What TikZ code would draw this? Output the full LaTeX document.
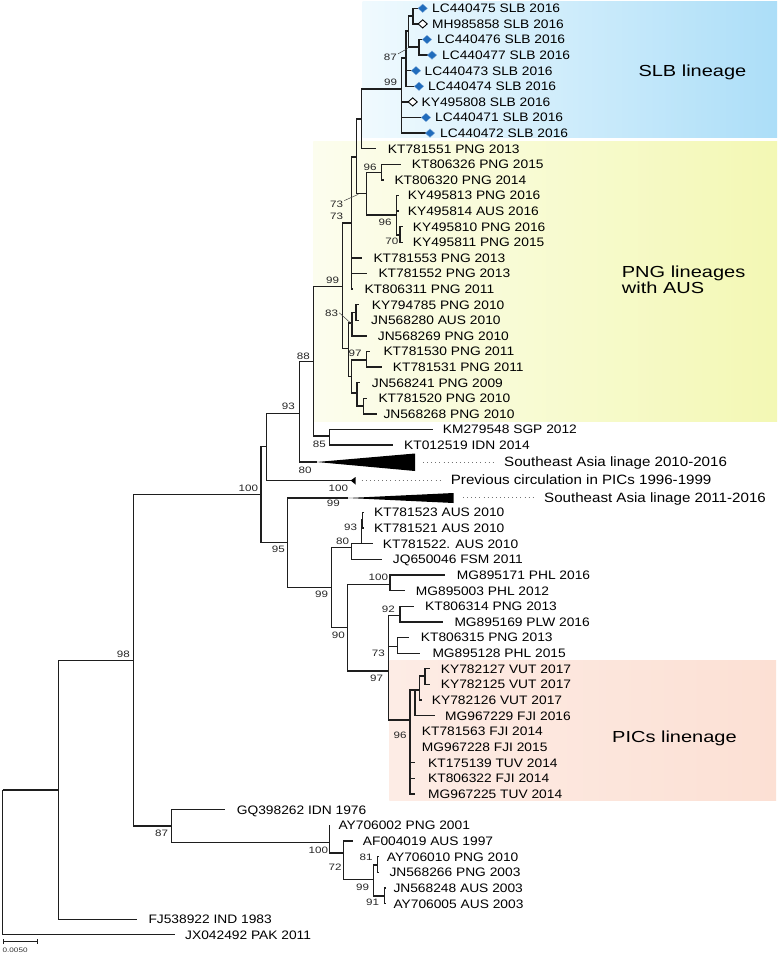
\documentclass[tikz,border=0pt]{standalone}
\usepackage{fontspec}
\setmainfont{Liberation Sans}
\newfontfamily\tipff{Liberation Sans}[FakeStretch=1.12]
\newfontfamily\wideff{Liberation Sans}[FakeStretch=1.25]
\usetikzlibrary{shapes.geometric,arrows.meta}
\definecolor{treeline}{RGB}{30,30,30}
\definecolor{dblue}{RGB}{32,108,188}
\definecolor{slbL}{RGB}{240,250,254}
\definecolor{slbR}{RGB}{172,222,248}
\definecolor{pngL}{RGB}{252,253,238}
\definecolor{pngR}{RGB}{243,248,180}
\definecolor{picL}{RGB}{253,236,229}
\definecolor{picR}{RGB}{252,224,212}
\newcommand{\tipl}[5]{\coordinate (#1) at (#2,#3);\node[lab] (#1l) at (#4,#3) {#5};}
\newcommand{\suplab}[4]{\node[sup] (#1) at (#2,#3) {#4};}
\begin{document}
\begin{tikzpicture}[x=1pt,y=-1pt,
  br/.style={draw=treeline, line width=1.25pt},
  lab/.style={anchor=base west, inner sep=0pt, yshift=-4.4pt, font=\tipff\fontsize{12.3}{14}\selectfont, text=black},
  sup/.style={anchor=base east, inner sep=0pt, yshift=-3.3pt, font=\wideff\fontsize{9.3}{11}\selectfont, text=black!85},
  ann/.style={anchor=base west, inner sep=0pt, yshift=-4.83pt, font=\tipff\fontsize{13.5}{16}\selectfont, text=black},
  clade/.style={anchor=base west, inner sep=0pt, yshift=-5.73pt, font=\wideff\fontsize{16}{18}\selectfont, text=black},
  bdia/.style={diamond, minimum width=9.5pt, minimum height=8.5pt, inner sep=0pt, fill=dblue, draw=dblue!60!white, line width=0.3pt},
  odia/.style={diamond, minimum width=9.5pt, minimum height=8.5pt, inner sep=0pt, fill=white, draw=black, line width=0.9pt},
  dotl/.style={draw=black!55, line width=0.9pt, dash pattern=on 0.9pt off 3.2pt},
  ldr/.style={draw=black!75, line width=0.5pt},
  tri/.style={fill=black}
]
\useasboundingbox (0,0) rectangle (778,954);
\fill[white] (0,0) rectangle (778,954);
% backgrounds
\shade[left color=slbL, right color=slbR] (362.5,1) rectangle (777,137.5);
\shade[left color=pngL, right color=pngR] (313.3,141.5) rectangle (777,421.7);
\shade[left color=picL, right color=picR] (389.3,660.3) rectangle (776,800.5);

% internal nodes
\coordinate (nRoot) at (2.5,790);
\coordinate (nGG) at (58.3,790);
\coordinate (nHH) at (133.3,660.7);
\coordinate (nQ) at (261,494.3);
\coordinate (nP) at (266.7,446.7);
\coordinate (nO) at (299.3,413.3);
\coordinate (nM) at (313.3,361.7);
\coordinate (nN) at (329.3,436);
\coordinate (nF) at (342.3,286.7);
\coordinate (nE) at (351.7,223);
\coordinate (nC) at (356.7,157);
\coordinate (nD) at (361.7,119);
\coordinate (nTT) at (401.7,89);
\coordinate (nSS) at (406,58);
\coordinate (nRR) at (408.5,31);
\coordinate (nPP) at (413,16);
\coordinate (nQQ) at (419,47);
\coordinate (nA) at (366.7,193.5);
\coordinate (n96) at (381.7,172.5);
\coordinate (nB) at (396.7,215);
\coordinate (n70) at (400,235);
\coordinate (nG) at (348.3,348.3);
\coordinate (nH) at (352,323);
\coordinate (nH2) at (356,312.5);
\coordinate (nJ) at (351.7,376.7);
\coordinate (n97) at (366.7,360);
\coordinate (nL) at (357,393);
\coordinate (nK) at (363.3,406);
\coordinate (nR) at (287.3,542.7);
\coordinate (nS) at (331.7,587.3);
\coordinate (nT) at (351.7,547.7);
\coordinate (nW) at (361.7,543.6);
\coordinate (nV) at (362.8,520);
\coordinate (nU) at (347.3,627.3);
\coordinate (nX) at (390,584.3);
\coordinate (nBB) at (388.3,671);
\coordinate (n92) at (400,615.7);
\coordinate (nZ) at (397.7,646.7);
\coordinate (nPIC) at (410,720);
\coordinate (nCC) at (415,690);
\coordinate (nDD) at (419.3,690);
\coordinate (nEE) at (425,676);
\coordinate (nII) at (171.7,826);
\coordinate (nJJ) at (329.3,842.7);
\coordinate (nKK) at (343.3,853);
\coordinate (nLL) at (373.3,879.3);
\coordinate (nMM) at (377.7,865);
\coordinate (nNN) at (384.3,896);

% collapsed clades
\coordinate (sea1a) at (316.7,462);
\coordinate (sea1t) at (415,453.5);
\coordinate (sea1b) at (415,471);
\coordinate (preva) at (350.7,480.5);
\coordinate (prevt) at (355.5,477);
\coordinate (prevb) at (355.5,484.5);
\coordinate (sea2a) at (348,498);
\coordinate (sea2t) at (453.5,493);
\coordinate (sea2b) at (453.5,503);
\fill[tri] (sea1a) -- (sea1t) -- (sea1b) -- cycle;
\fill[tri] (preva) -- (prevt) -- (prevb) -- cycle;
\fill[tri] (sea2a) -- (sea2t) -- (sea2b) -- cycle;

% tips
\tipl{LC440475}{418}{8.3}{432}{LC440475 SLB 2016}
\tipl{MH985858}{418}{23.9}{432}{MH985858 SLB 2016}
\tipl{LC440476}{422.5}{39.5}{437}{LC440476 SLB 2016}
\tipl{LC440477}{427.5}{55.1}{442}{LC440477 SLB 2016}
\tipl{LC440473}{411.5}{70.7}{424.5}{LC440473 SLB 2016}
\tipl{LC440474}{414.5}{86.3}{428}{LC440474 SLB 2016}
\tipl{KY495808}{408}{101.9}{421.5}{KY495808 SLB 2016}
\tipl{LC440471}{421.5}{117.5}{435}{LC440471 SLB 2016}
\tipl{LC440472}{425.5}{133.1}{440}{LC440472 SLB 2016}
\tipl{KT781551}{376}{148.7}{387.7}{KT781551 PNG 2013}
\tipl{KT806326}{401}{164.3}{411.7}{KT806326 PNG 2015}
\tipl{KT806320}{384}{179.9}{394.3}{KT806320 PNG 2014}
\tipl{KY495813}{399}{195.5}{407.7}{KY495813 PNG 2016}
\tipl{KY495814}{399}{211.1}{407.7}{KY495814 AUS 2016}
\tipl{KY495810}{403}{226.7}{412.7}{KY495810 PNG 2016}
\tipl{KY495811}{403}{242.3}{412.7}{KY495811 PNG 2015}
\tipl{KT781553}{361.7}{257.9}{373.3}{KT781553 PNG 2013}
\tipl{KT781552}{366.7}{273.5}{378.3}{KT781552 PNG 2013}
\tipl{KT806311}{353}{289.1}{364.3}{KT806311 PNG 2011}
\tipl{KY794785}{359}{304.7}{371.7}{KY794785 PNG 2010}
\tipl{JN568280}{359}{320.3}{371}{JN568280 AUS 2010}
\tipl{JN568269}{366.7}{335.9}{377.7}{JN568269 PNG 2010}
\tipl{KT781530}{370}{351.5}{383.3}{KT781530 PNG 2011}
\tipl{KT781531}{382}{367.1}{392.7}{KT781531 PNG 2011}
\tipl{JN568241}{360}{382.7}{371.7}{JN568241 PNG 2009}
\tipl{KT781520}{367}{398.3}{378.3}{KT781520 PNG 2010}
\tipl{JN568268}{377}{413.9}{383.3}{JN568268 PNG 2010}
\tipl{KM279548}{433}{429.5}{442.7}{KM279548 SGP 2012}
\tipl{KT012519}{393.3}{445.1}{404}{KT012519 IDN 2014}
\tipl{KT781523}{364}{512.3}{374}{KT781523 AUS 2010}
\tipl{KT781521}{364}{528}{374}{KT781521 AUS 2010}
\tipl{KT781522}{373.3}{543.6}{382.7}{KT781522. AUS 2010}
\tipl{JQ650046}{381.7}{559.3}{392.7}{JQ650046 FSM 2011}
\tipl{MG895171}{445}{574.9}{456.7}{MG895171 PHL 2016}
\tipl{MG895003}{405}{590.6}{415.7}{MG895003 PHL 2012}
\tipl{KT806314}{414}{606.2}{425}{KT806314 PNG 2013}
\tipl{MG895169}{443.3}{621.9}{454.3}{MG895169 PLW 2016}
\tipl{KT806315}{409.3}{637.5}{420.7}{KT806315 PNG 2013}
\tipl{MG895128}{420}{653.2}{432.3}{MG895128 PHL 2015}
\tipl{KY782127}{430}{668.8}{440.7}{KY782127 VUT 2017}
\tipl{KY782125}{430}{684.5}{440.7}{KY782125 VUT 2017}
\tipl{KY782126}{422}{700.1}{431.7}{KY782126 VUT 2017}
\tipl{MG967229}{435}{715.8}{445}{MG967229 FJI 2016}
\tipl{KT781563}{410.5}{731.4}{421.7}{KT781563 FJI 2014}
\tipl{MG967228}{410.5}{747.1}{421.7}{MG967228 FJI 2015}
\tipl{KT175139}{415}{762.7}{428}{KT175139 TUV 2014}
\tipl{KT806322}{415}{778.4}{428}{KT806322 FJI 2014}
\tipl{MG967225}{415}{794}{428}{MG967225 TUV 2014}
\tipl{GQ398262}{225}{809.7}{236.7}{GQ398262 IDN 1976}
\tipl{AY706002}{329.3}{825.3}{338.3}{AY706002 PNG 2001}
\tipl{AF004019}{353.3}{841}{362.7}{AF004019 AUS 1997}
\tipl{AY706010}{379}{856.6}{386.7}{AY706010 PNG 2010}
\tipl{JN568266}{379}{872.3}{389.3}{JN568266 PNG 2003}
\tipl{JN568248}{386}{887.9}{393.3}{JN568248 AUS 2003}
\tipl{AY706005}{386}{903.6}{393.3}{AY706005 AUS 2003}
\tipl{FJ538922}{137.3}{919.2}{148.3}{FJ538922 IND 1983}
\tipl{JX042492}{175}{934.8}{185}{JX042492 PAK 2011}

% branches
\draw[br] (nRoot) |- (nGG) (nRoot) |- (JX042492);
\draw[br] (nGG) |- (nHH) (nGG) |- (FJ538922);
\draw[br] (nHH) |- (nQ) (nHH) |- (nII);
\draw[br] (nQ) |- (nP) (nQ) |- (nR);
\draw[br] (nP) |- (nO) (nP) |- (preva);
\draw[br] (nO) |- (nM) (nO) |- (sea1a);
\draw[br] (nM) |- (nF) (nM) |- (nN);
\draw[br] (nN) |- (KM279548) (nN) |- (KT012519);
\draw[br] (nF) |- (nE) (nF) |- (nG);
\draw[br] (nE) |- (nC) (nE) |- (KT781553) (nE) |- (KT781552) (nE) |- (KT806311);
\draw[br] (nC) |- (nD) (nC) |- (nA);
\draw[br] (nD) |- (nTT) (nD) |- (KT781551);
\draw[br] (nTT) |- (nSS) (nTT) |- (KY495808) (nTT) |- (LC440471) (nTT) |- (LC440472);
\draw[br] (nSS) |- (nRR) (nSS) |- (LC440473) (nSS) |- (LC440474);
\draw[br] (nRR) |- (nPP) (nRR) |- (nQQ);
\draw[br] (nPP) |- (LC440475) (nPP) |- (MH985858);
\draw[br] (nQQ) |- (LC440476) (nQQ) |- (LC440477);
\draw[br] (nA) |- (n96) (nA) |- (nB);
\draw[br] (n96) |- (KT806326) (n96) |- (KT806320);
\draw[br] (nB) |- (KY495813) (nB) |- (KY495814) (nB) |- (n70);
\draw[br] (n70) |- (KY495810) (n70) |- (KY495811);
\draw[br] (nG) |- (nH) (nG) |- (nJ);
\draw[br] (nH) |- (nH2) (nH) |- (JN568269);
\draw[br] (nH2) |- (KY794785) (nH2) |- (JN568280);
\draw[br] (nJ) |- (n97) (nJ) |- (nL);
\draw[br] (n97) |- (KT781530) (n97) |- (KT781531);
\draw[br] (nL) |- (JN568241) (nL) |- (nK);
\draw[br] (nK) |- (KT781520) (nK) |- (JN568268);
\draw[br] (nR) |- (sea2a) (nR) |- (nS);
\draw[br] (nS) |- (nT) (nS) |- (nU);
\draw[br] (nT) |- (nW) (nT) |- (JQ650046);
\draw[br] (nW) |- (nV) (nW) |- (KT781522);
\draw[br] (nV) |- (KT781523) (nV) |- (KT781521);
\draw[br] (nU) |- (nX) (nU) |- (nBB);
\draw[br] (nX) |- (MG895171) (nX) |- (MG895003);
\draw[br] (nBB) |- (n92) (nBB) |- (nZ) (nBB) |- (nPIC);
\draw[br] (n92) |- (KT806314) (n92) |- (MG895169);
\draw[br] (nZ) |- (KT806315) (nZ) |- (MG895128);
\draw[br] (nPIC) |- (nCC) (nPIC) |- (KT781563) (nPIC) |- (MG967228) (nPIC) |- (KT175139) (nPIC) |- (KT806322) (nPIC) |- (MG967225);
\draw[br] (nCC) |- (nDD) (nCC) |- (MG967229);
\draw[br] (nDD) |- (nEE) (nDD) |- (KY782126);
\draw[br] (nEE) |- (KY782127) (nEE) |- (KY782125);
\draw[br] (nII) |- (GQ398262) (nII) |- (nJJ);
\draw[br] (nJJ) |- (AY706002) (nJJ) |- (nKK);
\draw[br] (nKK) |- (AF004019) (nKK) |- (nLL);
\draw[br] (nLL) |- (nMM) (nLL) |- (nNN);
\draw[br] (nMM) |- (AY706010) (nMM) |- (JN568266);
\draw[br] (nNN) |- (JN568248) (nNN) |- (AY706005);

% diamonds
\node[bdia] (dLC440475) at (422.7,8.3) {};
\node[odia] (dMH985858) at (422.7,23.9) {};
\node[bdia] (dLC440476) at (427,39.5) {};
\node[bdia] (dLC440477) at (432,55.1) {};
\node[bdia] (dLC440473) at (416,70.7) {};
\node[bdia] (dLC440474) at (419,86.3) {};
\node[odia] (dKY495808) at (412.7,101.9) {};
\node[bdia] (dLC440471) at (426,117.5) {};
\node[bdia] (dLC440472) at (430,133.1) {};

% collapsed clade annotations
\coordinate (sea1d0) at (423,462);
\coordinate (sea1d1) at (495,462);
\coordinate (prevd0) at (361.7,480.5);
\coordinate (prevd1) at (440,480.5);
\coordinate (sea2d0) at (463,497.5);
\coordinate (sea2d1) at (535,497.5);
\draw[dotl] (sea1d0) -- (sea1d1);
\draw[dotl] (prevd0) -- (prevd1);
\draw[dotl] (sea2d0) -- (sea2d1);
\node[ann] (sea1lab) at (504,462) {Southeast Asia linage 2010-2016};
\node[ann] (prevlab) at (450.7,480) {Previous circulation in PICs 1996-1999};
\node[ann] (sea2lab) at (544,497.5) {Southeast Asia linage 2011-2016};

% clade labels
\node[clade] (slblab) at (638.3,70.7) {SLB lineage};
\node[clade] (pnglab1) at (621.7,272) {PNG lineages};
\node[clade] (pnglab2) at (621.7,287.3) {with AUS};
\node[clade] (piclab) at (612,737) {PICs linenage};

% support values
\suplab{s87}{397}{57.3}{87}
\suplab{s99a}{397.3}{82.3}{99}
\suplab{s96a}{376.7}{166.7}{96}
\suplab{s73a}{343.3}{204}{73}
\suplab{s73b}{343.3}{216}{73}
\suplab{s96b}{391.7}{221.7}{96}
\suplab{s70}{398.5}{241}{70}
\suplab{s99b}{339.3}{280}{99}
\suplab{s83}{338.3}{312.7}{83}
\suplab{s97a}{361.7}{352.7}{97}
\suplab{s88}{310}{356}{88}
\suplab{s93a}{295}{406}{93}
\suplab{s85}{326}{444}{85}
\suplab{s80a}{311.7}{470}{80}
\suplab{s100a}{348.3}{487.7}{100}
\suplab{s100b}{258.3}{487.7}{100}
\suplab{s99c}{340}{503.3}{99}
\suplab{s95}{285}{549.3}{95}
\suplab{s93b}{357.3}{526.7}{93}
\suplab{s80b}{349.3}{540.7}{80}
\suplab{s99d}{328.3}{594}{99}
\suplab{s100c}{388.3}{577.3}{100}
\suplab{s90}{345}{635}{90}
\suplab{s92}{395}{609}{92}
\suplab{s73c}{385}{653.3}{73}
\suplab{s97b}{383.3}{678.3}{97}
\suplab{s96c}{406.7}{735}{96}
\suplab{s98}{130}{654}{98}
\suplab{s87b}{168.3}{833.3}{87}
\suplab{s100d}{328.3}{850}{100}
\suplab{s72}{341.7}{866.7}{72}
\suplab{s81}{372.7}{857.3}{81}
\suplab{s99e}{369.3}{887.3}{99}
\suplab{s91}{379.3}{901.7}{91}

% leader lines
\coordinate (l87) at (407.5,48.5);
\coordinate (l73) at (358.3,194.3);
\coordinate (l83) at (351.7,324);
\draw[ldr] ([xshift=1pt]s87.north east) -- (l87);
\draw[ldr] ([xshift=1pt]s73a.north east) -- (l73);
\draw[ldr] ([xshift=1pt]s83.east) -- (l83);

% scale bar
\coordinate (sb0) at (3.3,941.7);
\coordinate (sb1) at (38.3,941.7);
\draw[draw=treeline, line width=0.9pt, {Bar[width=5pt]}-{Bar[width=5pt]}] (sb0) -- (sb1);
\node[anchor=base west, inner sep=0pt, font=\wideff\fontsize{6.5}{8}\selectfont, text=black!80] (sblab) at (2.5,952) {0.0050};
\end{tikzpicture}
\end{document}
